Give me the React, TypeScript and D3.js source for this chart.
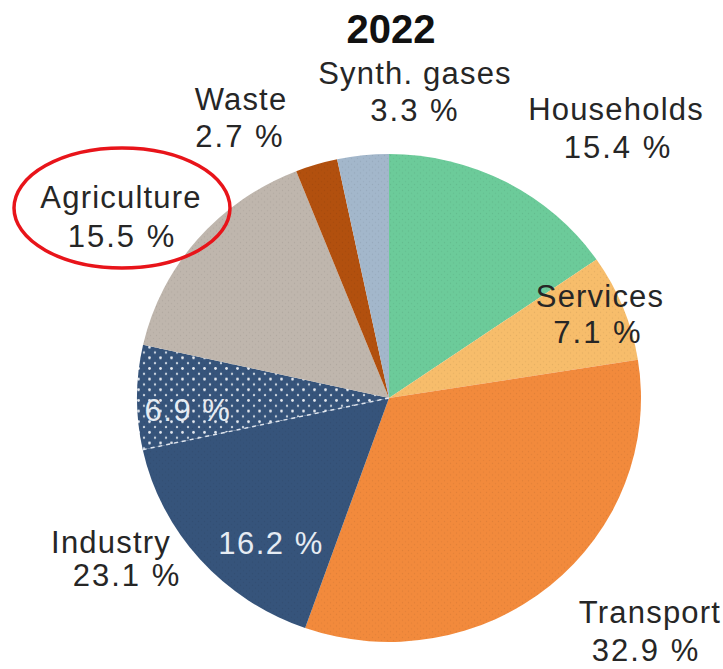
import React from "react";
import * as d3 from "d3";

const title = "2022";
const sectors = ["Households", "Services", "Transport", "Industry (energy)", "Industry (process)", "Agriculture", "Waste", "Synth. gases"];
const shares = [15.4, 7.1, 32.9, 16.2, 6.9, 15.5, 2.7, 3.3];
const fills = ["#6ccb9a", "#f7bd6b", "#f28a3c", "#36547b", "url(#dots)", "#bfb6ad", "#b2500e", "#a3b7cb"];

// label layout (text, centre x, baselines)
const outerLabels = [
  { name: "Synth. gases", value: "3.3 %", x: 415, y: 84, vx: 415, vy: 121 },
  { name: "Waste", value: "2.7 %", x: 241, y: 110, vx: 240, vy: 147 },
  { name: "Households", value: "15.4 %", x: 616, y: 120, vx: 618, vy: 158 },
  { name: "Agriculture", value: "15.5 %", x: 121, y: 208, vx: 122, vy: 247 },
  { name: "Services", value: "7.1 %", x: 600, y: 307, vx: 598, vy: 343 },
  { name: "Industry", value: "23.1 %", x: 111, y: 553, vx: 127, vy: 586 },
  { name: "Transport", value: "32.9 %", x: 650, y: 623, vx: 646, vy: 661 },
];
const innerLabels = [
  { text: "6.9 %", x: 188, y: 421 },
  { text: "16.2 %", x: 271, y: 554 },
];

export default function App() {
  const W = 723, H = 669;
  const cx = 389, cy = 398, r = 252, sy = 0.968;
  const pie = d3.pie<number>().sort(null).value((d) => d);
  const arcs = pie(shares);
  const arc = d3.arc<d3.PieArcDatum<number>>().innerRadius(0).outerRadius(r);
  const font = "Liberation Sans, Arial, sans-serif";
  return (
    <svg width={W} height={H} style={{ position: "absolute", left: 0, top: 0, background: "#fff" }}>
      <defs>
        <pattern id="dots" width="11" height="11" patternUnits="userSpaceOnUse">
          <rect width="11" height="11" fill="#36547b" />
          <circle cx="2.5" cy="2.5" r="1.4" fill="#e8ecf2" />
          <circle cx="8" cy="8" r="1.2" fill="#c9d2de" />
        </pattern>
        <pattern id="speck" width="6" height="6" patternUnits="userSpaceOnUse">
          <circle cx="1.5" cy="1.5" r="0.7" fill="#000" opacity="0.08" />
          <circle cx="4.5" cy="4.5" r="0.7" fill="#000" opacity="0.06" />
        </pattern>
      </defs>
      <text x={391} y={43} textAnchor="middle" fontFamily={font} fontWeight="bold" fontSize={40} fill="#111">
        {title}
      </text>
      <g transform={`translate(${cx},${cy}) scale(1,${sy})`}>
        {arcs.map((a, i) => (
          <path key={sectors[i]} d={arc(a) || ""} fill={fills[i]} />
        ))}
        {arcs.map((a, i) => (
          <path key={"s" + i} d={arc(a) || ""} fill="url(#speck)" />
        ))}
        <line
          x1={0}
          y1={0}
          x2={r * Math.sin(arcs[3].endAngle)}
          y2={-r * Math.cos(arcs[3].endAngle)}
          stroke="#dfe5ee"
          strokeWidth={1.5}
          strokeDasharray="4 4"
        />
      </g>
      {outerLabels.map((l) => (
        <g key={l.name} fontFamily={font} fontSize={31} fill="#262626" textAnchor="middle">
          <text x={l.x} y={l.y} letterSpacing={1.2}>{l.name}</text>
          <text x={l.vx} y={l.vy} letterSpacing={2}>{l.value}</text>
        </g>
      ))}
      {innerLabels.map((l) => (
        <text key={l.text} x={l.x} y={l.y} fontFamily={font} fontSize={31} fill="#e6ecf3" textAnchor="middle" letterSpacing={1.5}>
          {l.text}
        </text>
      ))}
      <ellipse cx={122} cy={208} rx={108} ry={60} fill="none" stroke="#e8141a" strokeWidth={3.5} />
    </svg>
  );
}
